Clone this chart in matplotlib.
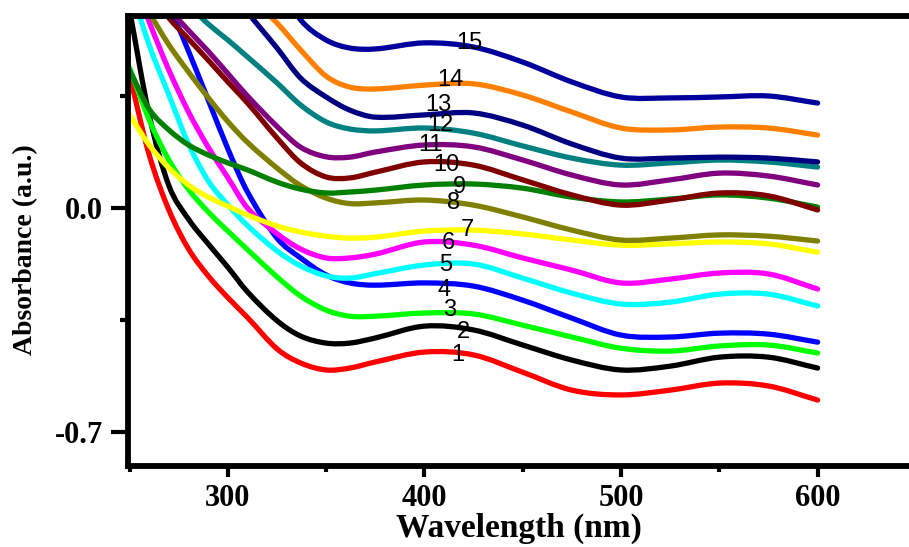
import matplotlib
matplotlib.use("Agg")
import matplotlib.pyplot as plt
from matplotlib.path import Path
from matplotlib.patches import PathPatch
from matplotlib.ticker import MultipleLocator, FormatStrFormatter

plt.rcParams['axes.unicode_minus'] = False

wavelength = [250, 260, 270, 280, 290, 300, 310, 325, 337, 350, 362, 375,
              400, 425, 450, 475, 500, 525, 550, 575, 600]

s1 = [0.416, 0.166, -0.006, -0.128, -0.212, -0.280, -0.342, -0.440, -0.484, -0.506, -0.500, -0.481,
      -0.450, -0.459, -0.513, -0.569, -0.584, -0.569, -0.547, -0.556, -0.600]
s2 = [0.619, 0.290, 0.070, -0.035, -0.112, -0.185, -0.262, -0.352, -0.400, -0.422, -0.422, -0.406,
      -0.369, -0.381, -0.428, -0.475, -0.506, -0.494, -0.466, -0.466, -0.500]
s3 = [0.438, 0.275, 0.150, 0.058, -0.012, -0.072, -0.130, -0.215, -0.275, -0.319, -0.338, -0.338,
      -0.328, -0.331, -0.366, -0.403, -0.438, -0.447, -0.431, -0.428, -0.453]
s4 = [1.000, 0.820, 0.640, 0.490, 0.338, 0.185, 0.050, -0.094, -0.156, -0.209, -0.234, -0.241,
      -0.234, -0.244, -0.288, -0.344, -0.397, -0.403, -0.391, -0.394, -0.419]
s5 = [0.700, 0.509, 0.353, 0.200, 0.085, 0.010, -0.055, -0.134, -0.181, -0.212, -0.219, -0.205,
      -0.178, -0.175, -0.219, -0.266, -0.300, -0.294, -0.269, -0.269, -0.306]
s6 = [0.744, 0.581, 0.431, 0.300, 0.190, 0.095, 0.000, -0.080, -0.128, -0.156, -0.156, -0.144,
      -0.106, -0.116, -0.156, -0.194, -0.234, -0.222, -0.203, -0.206, -0.253]
s7 = [0.291, 0.197, 0.125, 0.072, 0.034, 0.006, -0.022, -0.056, -0.075, -0.088, -0.094, -0.091,
      -0.072, -0.069, -0.081, -0.100, -0.116, -0.112, -0.106, -0.112, -0.138]
s8 = [0.730, 0.612, 0.510, 0.425, 0.345, 0.270, 0.205, 0.125, 0.070, 0.031, 0.014, 0.016,
      0.025, 0.009, -0.028, -0.069, -0.100, -0.094, -0.084, -0.088, -0.103]
s9 = [0.431, 0.309, 0.244, 0.197, 0.166, 0.141, 0.119, 0.081, 0.059, 0.047, 0.050, 0.056,
      0.072, 0.075, 0.062, 0.034, 0.019, 0.028, 0.041, 0.031, 0.003]
s10 = [0.775, 0.680, 0.594, 0.528, 0.462, 0.394, 0.328, 0.219, 0.141, 0.097, 0.094, 0.112,
       0.144, 0.134, 0.088, 0.041, 0.009, 0.025, 0.047, 0.038, -0.006]
s11 = [0.822, 0.719, 0.625, 0.555, 0.490, 0.420, 0.350, 0.255, 0.190, 0.160, 0.159, 0.175,
       0.197, 0.191, 0.150, 0.103, 0.072, 0.088, 0.109, 0.100, 0.072]
s12 = [0.869, 0.775, 0.697, 0.634, 0.575, 0.525, 0.472, 0.391, 0.322, 0.269, 0.247, 0.241,
       0.250, 0.234, 0.194, 0.156, 0.134, 0.141, 0.150, 0.144, 0.128]
s13 = [1.275, 1.150, 1.025, 0.900, 0.790, 0.697, 0.612, 0.500, 0.406, 0.347, 0.306, 0.284,
       0.291, 0.297, 0.259, 0.200, 0.156, 0.156, 0.159, 0.156, 0.144]
s14 = [1.275, 1.150, 1.025, 0.916, 0.822, 0.744, 0.666, 0.578, 0.494, 0.412, 0.378, 0.372,
       0.384, 0.388, 0.353, 0.300, 0.250, 0.244, 0.253, 0.250, 0.228]
s15 = [1.500, 1.400, 1.300, 1.200, 1.100, 0.950, 0.850, 0.710, 0.588, 0.525, 0.500, 0.497,
       0.516, 0.503, 0.456, 0.394, 0.347, 0.344, 0.347, 0.350, 0.328]

spectra = [s1, s2, s3, s4, s5, s6, s7, s8, s9, s10, s11, s12, s13, s14, s15]
names = [str(i) for i in range(1, 16)]
colors = ['#ff0000', '#000000', '#00ff00', '#0000ff', '#00ffff', '#ff00ff', '#ffff00',
          '#808000', '#008000', '#800000', '#800080', '#008080', '#000080', '#ff8000', '#00009c']

# where the curve numbers sit
label_x = [417, 420, 413, 410, 411, 412, 422, 415, 418, 411, 403, 408, 407, 413, 423]
label_y = [-0.459, -0.388, -0.319, -0.256, -0.178, -0.109, -0.069, 0.016, 0.066, 0.134,
           0.197, 0.259, 0.322, 0.400, 0.516]


def smooth_path(x, y):
    # cubic Hermite bezier through the read points (Origin style smooth line)
    n = len(x)
    slopes = []
    for i in range(n):
        a, b = max(i - 1, 0), min(i + 1, n - 1)
        slopes.append((y[b] - y[a]) / (x[b] - x[a]))
    verts = [(x[0], y[0])]
    codes = [Path.MOVETO]
    for i in range(n - 1):
        h = (x[i + 1] - x[i]) / 3.0
        verts += [(x[i] + h, y[i] + slopes[i] * h),
                  (x[i + 1] - h, y[i + 1] - slopes[i + 1] * h),
                  (x[i + 1], y[i + 1])]
        codes += [Path.CURVE4] * 3
    return Path(verts, codes)


fig = plt.figure(figsize=(9.09, 5.47), dpi=100)
ax = fig.add_axes([128 / 909, 81 / 547, 781 / 909, 450 / 547])

for y, c in zip(spectra, colors):
    ax.add_patch(PathPatch(smooth_path(wavelength, y), facecolor='none', edgecolor=c,
                           lw=3.8, joinstyle='round', capstyle='round'))

for name, lx, ly in zip(names, label_x, label_y):
    ax.text(lx, ly, name, ha='center', va='center', fontsize=17,
            family='Liberation Sans', color='black')

ax.set_xlim(249.2, 646.5)
ax.set_ylim(-0.806, 0.6)

ax.xaxis.set_major_locator(MultipleLocator(100))
ax.xaxis.set_minor_locator(MultipleLocator(50))
ax.yaxis.set_major_locator(MultipleLocator(0.7))
ax.yaxis.set_minor_locator(MultipleLocator(0.35))
ax.yaxis.set_major_formatter(FormatStrFormatter('%.1f'))

for side in ['left', 'bottom', 'top']:
    ax.spines[side].set_linewidth(4.2)
ax.spines['right'].set_visible(False)

ax.tick_params(axis='x', which='major', direction='out', length=8, width=3, pad=5)
ax.tick_params(axis='x', which='minor', direction='out', length=4, width=3)
ax.tick_params(axis='y', which='major', direction='out', length=12, width=3, pad=6)
ax.tick_params(axis='y', which='minor', direction='out', length=6, width=3)
ax.tick_params(top=False, right=False)

for lab in ax.get_xticklabels() + ax.get_yticklabels():
    lab.set_family('Liberation Serif')
    lab.set_fontweight('bold')
    lab.set_fontsize(22)

ax.set_xlabel('Wavelength (nm)', family='Liberation Serif', fontweight='bold',
              fontsize=24, labelpad=0)
ax.set_ylabel('Absorbance (a.u.)', family='Liberation Serif', fontweight='bold',
              fontsize=20)
ax.yaxis.set_label_coords(-0.115, 0.48)

fig.savefig('out.png', dpi=100)
